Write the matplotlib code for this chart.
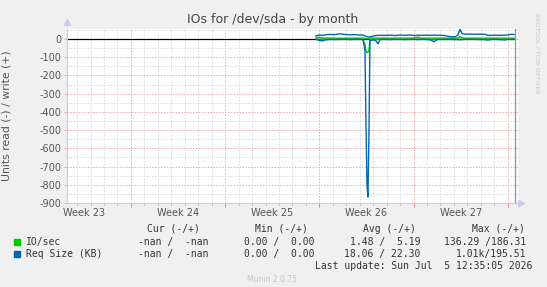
import matplotlib
matplotlib.use("Agg")
import matplotlib.pyplot as plt
from matplotlib.patches import Rectangle
import numpy as np

# x positions in days from the left edge of the graph
DAYS = [18.50, 18.80, 19.02, 19.24, 19.54, 19.91, 20.28, 20.65, 21.03, 21.40,
        21.77, 21.99, 22.14, 22.21, 22.29, 22.36, 22.44, 22.51, 22.73, 22.96,
        23.11, 23.25, 23.63, 24.00, 24.37, 24.74, 25.11, 25.48, 25.85, 26.08,
        26.30, 26.60, 26.97, 27.27, 27.49, 27.71, 28.08, 28.45, 28.83, 29.05,
        29.20, 29.35, 29.57, 29.94, 30.31, 30.68, 31.05, 31.28, 31.50, 31.80,
        32.17, 32.54, 32.76, 32.99, 33.21]

# read values are drawn below zero, write values above
IO_READ = [1, 1, 1, 1, 1, 1, 1, 1, 1, 1,
           1, 2, 30, 65, 75, 73, 60, 4, 2, 1,
           1, 1, 1, 1, 1, 1, 1, 1, 1, 1,
           1, 1, 1, 1, 1, 1, 1, 1, 1, 1,
           1, 1, 1, 1, 1, 1, 1, 1, 1, 1,
           1, 1, 1, 1, 1]
IO_WRITE = [9, 8, 6, 5, 5, 5, 4, 5, 5, 5,
            5, 5, 3, 2, 2, 2, 3, 5, 5, 5,
            5, 5, 5, 5, 5, 5, 5, 5, 6, 10,
            5, 5, 5, 5, 5, 5, 5, 5, 5, 6,
            13, 6, 5, 5, 5, 5, 5, 5, 5, 5,
            5, 5, 5, 5, 5]
REQ_READ = [2, 9, 10, 4, 2, 3, 2, 2, 3, 2,
            2, 3, 60, 450, 800, 867, 500, 10, 4, 10,
            27, 3, 2, 3, 2, 2, 3, 2, 2, 3,
            2, 2, 4, 15, 3, 2, 2, 2, 3, 3,
            4, 3, 2, 2, 2, 3, 3, 6, 2, 2,
            3, 5, 2, 2, 2]
REQ_WRITE = [18, 22, 20, 24, 25, 24, 29, 25, 23, 24,
             22, 22, 16, 14, 13, 12, 12, 12, 16, 19,
             20, 20, 20, 21, 19, 22, 20, 22, 19, 21,
             20, 21, 20, 22, 20, 21, 19, 13, 12, 22,
             53, 30, 27, 27, 26, 27, 26, 20, 20, 21,
             20, 21, 22, 26, 25]

WEEK_LABELS = ["Week 23", "Week 24", "Week 25", "Week 26", "Week 27"]
WEEK_STARTS = [4.75, 11.75, 18.75, 25.75, 32.75]
NOW_DAY = 33.28
X_MAX = 33.51

LEGEND_HEADERS = ["Cur (-/+)", "Min (-/+)", "Avg (-/+)", "Max (-/+)"]
LEGEND_ROWS = [
    ("IO/sec", "#00CC00", ["-nan /  -nan", "0.00 /  0.00", "1.48 /  5.19", "136.29 /186.31"]),
    ("Req Size (KB)", "#0066B3", ["-nan /  -nan", "0.00 /  0.00", "18.06 / 22.30", "1.01k/195.51"]),
]
LAST_UPDATE = "Last update: Sun Jul  5 12:35:05 2026"

W, H = 547, 287
BG = "#F0F0F0"
MINOR = "#DADADA"
MAJOR = "#EFA8A8"
AXIS = "#C8C8F0"

fig = plt.figure(figsize=(W / 100, H / 100), dpi=100, facecolor=BG)
left, right, top, bottom = 67, 518, 29, 203
ax = fig.add_axes([left / W, 1 - bottom / H, (right - left) / W, (bottom - top) / H])
ax.set_facecolor("white")
ax.set_xlim(0, X_MAX)
ax.set_ylim(-900, 55)

# grid
dash = (0, (1.5, 1.5))
for d in np.arange(0.75, X_MAX, 1.0):
    if not any(abs(d - w) < 1e-6 for w in WEEK_STARTS):
        ax.axvline(d, color=MINOR, lw=0.7, ls=dash, zorder=1)
for w in WEEK_STARTS:
    ax.axvline(w, color=MAJOR, lw=0.7, ls=dash, zorder=1)
for v in range(-850, 55, 100):
    ax.axhline(v, color=MINOR, lw=0.7, ls=dash, zorder=1)
for v in range(-800, 1, 100):
    ax.axhline(v, color=MAJOR, lw=0.7, ls=dash, zorder=1)

ax.axhline(0, color="black", lw=0.9, xmax=NOW_DAY / X_MAX, zorder=2)
ax.axvline(NOW_DAY, color="#999999", lw=1.0, zorder=2)

days = np.array(DAYS)
ax.plot(days, -np.array(IO_READ), color="#00CC00", lw=1.0, zorder=3)
ax.plot(days, IO_WRITE, color="#00CC00", lw=1.0, zorder=3)
ax.plot(days, -np.array(REQ_READ), color="#0066B3", lw=1.0, zorder=4)
ax.plot(days, REQ_WRITE, color="#0066B3", lw=1.0, zorder=4)

for s in ["top", "right"]:
    ax.spines[s].set_visible(False)
for s in ["left", "bottom"]:
    ax.spines[s].set_color(AXIS)
    ax.spines[s].set_linewidth(0.8)

ax.set_yticks(range(-900, 1, 100))
ax.set_yticklabels([str(v) for v in range(-900, 1, 100)], fontsize=7, color="#555555")
ax.tick_params(axis="y", length=2, width=0.7, colors=MAJOR, labelcolor="#555555", pad=2)
ax.set_xticks(WEEK_STARTS)
ax.set_xticklabels([])
ax.set_xticks(np.arange(0.75, X_MAX, 1.0), minor=True)
ax.tick_params(axis="x", which="major", length=3, width=0.7, colors="#E08080")
ax.tick_params(axis="x", which="minor", length=2, width=0.6, colors="#BBBBBB")
for w, lab in zip(WEEK_STARTS, WEEK_LABELS):
    ax.text(w - 3.5, -900, lab, transform=ax.transData, fontsize=7,
            color="#555555", ha="center", va="top")
for t in ax.texts:
    t.set_y(-925)

# axis arrows
ax.plot([0], [1.04], marker="^", ms=4, color=AXIS, transform=ax.transAxes, clip_on=False)
ax.plot([1.0 + 3 / (right - left)], [0], marker=">", ms=4, color=AXIS,
        transform=ax.transAxes, clip_on=False)

ax.set_ylabel("Units read (-) / write (+)", fontsize=7.8, color="#555555")
ax.yaxis.set_label_coords(-55 / (right - left), 0.5)

fig.text(273 / W, 1 - 19 / H, "IOs for /dev/sda - by month", fontsize=9,
         color="#444444", ha="center", va="center")
fig.text(537 / W, 1 - 53 / H, "RRDTOOL / TOBI OETIKER", fontsize=4.5,
         color="#C8C8C8", rotation=270, ha="center", va="center")

mono = "DejaVu Sans Mono"
head_x = [200, 308, 416, 525]
val_x = [209, 315, 420, 526]
for x, h in zip(head_x, LEGEND_HEADERS):
    fig.text(x / W, 1 - 228.5 / H, h, family=mono, fontsize=7, color="#333333",
             ha="right", va="center")
for i, (name, col, vals) in enumerate(LEGEND_ROWS):
    y = 241.5 + i * 12.5
    fig.add_artist(Rectangle((14 / W, 1 - (y + 3) / H), 6 / W, 6 / H,
                             transform=fig.transFigure, color=col))
    fig.text(26 / W, 1 - y / H, name, family=mono, fontsize=7, color="#333333",
             ha="left", va="center")
    for x, v in zip(val_x, vals):
        fig.text(x / W, 1 - y / H, v, family=mono, fontsize=7, color="#333333",
                 ha="right", va="center")
fig.text(532 / W, 1 - 266 / H, LAST_UPDATE, family=mono, fontsize=7,
         color="#333333", ha="right", va="center")
fig.text(272 / W, 1 - 280 / H, "Munin 2.0.75", fontsize=5.5, color="#C8C8C8",
         ha="center", va="center")

fig.savefig("out.png", dpi=100, facecolor=BG)
